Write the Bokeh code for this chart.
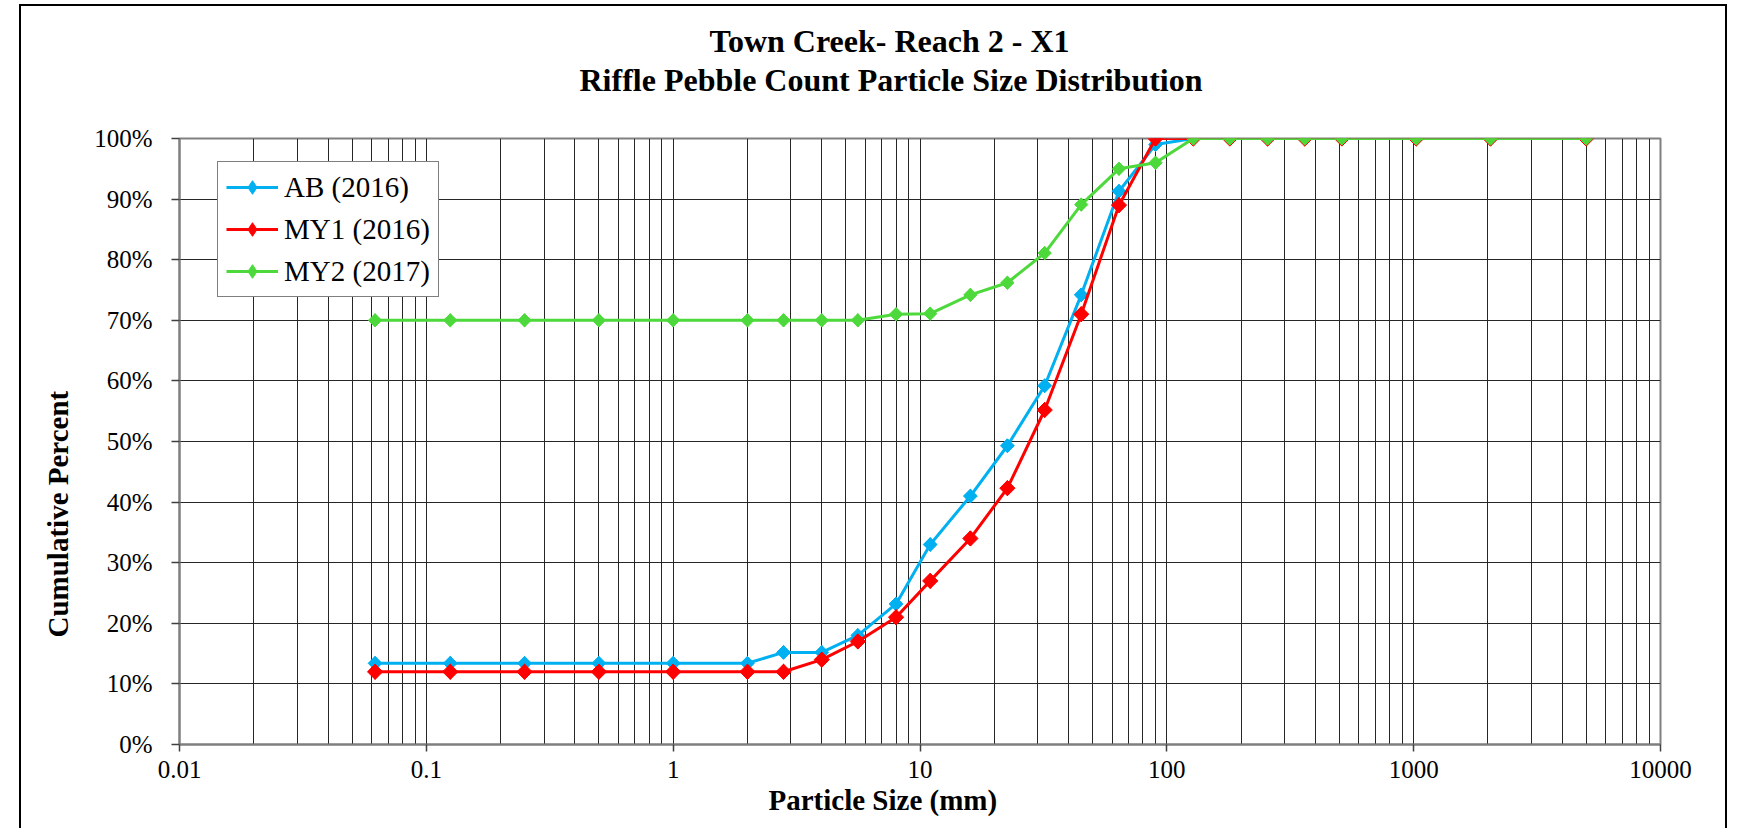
import math
from bokeh.plotting import figure
from bokeh.models import (FixedTicker, PrintfTickFormatter, Range1d, Legend, LegendItem,
                          Title, Spacer)
from bokeh.layouts import row, column
from bokeh.embed import file_html
from bokeh.resources import INLINE

# ---------------- data ----------------
sizes_mm = [0.062, 0.125, 0.25, 0.5, 1, 2, 2.8, 4, 5.6, 8, 11, 16, 22.6, 32, 45, 64,
            90, 128, 180, 256, 362, 512, 1024, 2048, 5000]
ab_2016 = [13.4, 13.4, 13.4, 13.4, 13.4, 13.4, 15.2, 15.2, 18.0, 23.2, 33.0, 41.0, 49.3,
           59.2, 74.2, 91.3, 99.0, 100, 100, 100, 100, 100, 100, 100, 100]
my1_2016 = [12, 12, 12, 12, 12, 12, 12, 14, 17, 21, 27, 34, 42.3, 55.2, 71, 89, 100, 100,
            100, 100, 100, 100, 100, 100, 100]
my2_2017 = [70, 70, 70, 70, 70, 70, 70, 70, 70, 71, 71.1, 74.2, 76.2, 81.1, 89.1, 95, 96,
            100, 100, 100, 100, 100, 100, 100, 100]
series_names = ["AB (2016)", "MY1 (2016)", "MY2 (2017)"]
x_major_ticks = [0.01, 0.1, 1, 10, 100, 1000, 10000]
x_tick_labels = ["0.01", "0.1", "1", "10", "100", "1000", "10000"]
y_ticks = [0, 10, 20, 30, 40, 50, 60, 70, 80, 90, 100]
title_lines = ["Town Creek- Reach 2 - X1", "Riffle Pebble Count Particle Size Distribution"]
x_title = "Particle Size (mm)"
y_title = "Cumulative Percent"

FONT = "Liberation Serif"
colors = ["#00B0F0", "#FF0000", "#4DD93B"]
marker_sizes = [9.8, 10.8, 9.4]

p = figure(width=1708, height=824, x_axis_type="log",
           x_range=Range1d(x_major_ticks[0], x_major_ticks[-1]),
           y_range=Range1d(y_ticks[0], y_ticks[-1]),
           output_backend="svg", toolbar_location=None, title=None,
           min_border_left=155, min_border_right=69, min_border_top=132, min_border_bottom=86)
p.background_fill_color = "white"
p.border_fill_color = "white"
p.outline_line_color = "#808080"
p.outline_line_width = 2
p.styles = {"border-top": "2px solid black", "border-left": "2px solid black",
            "border-right": "2px solid black"}

minor = [m * k for m in x_major_ticks[:-1] for k in range(2, 10)]
p.xaxis.ticker = FixedTicker(ticks=x_major_ticks, minor_ticks=minor)
p.xaxis.major_label_overrides = {t: lab for t, lab in zip(x_major_ticks, x_tick_labels)}
p.yaxis.ticker = FixedTicker(ticks=y_ticks)
p.yaxis.formatter = PrintfTickFormatter(format="%d%%")

for ax in (p.xaxis, p.yaxis):
    ax.axis_line_color = "#7f7f7f"
    ax.axis_line_width = 2
    ax.major_tick_line_color = "#404040"
    ax.major_tick_line_width = 1.5
    ax.major_tick_in = 0
    ax.minor_tick_in = 0
    ax.minor_tick_out = 0
    ax.major_label_text_font = FONT
    ax.major_label_text_font_size = "25px"
    ax.major_label_text_color = "black"
p.xaxis.major_tick_out = 7
p.yaxis.major_tick_out = 8
p.xaxis.major_label_standoff = 9
p.yaxis.major_label_standoff = 19

p.xgrid.grid_line_color = "#262626"
p.xgrid.grid_line_width = 1
p.xgrid.minor_grid_line_color = "#262626"
p.xgrid.minor_grid_line_width = 1
p.ygrid.grid_line_color = "#262626"
p.ygrid.grid_line_width = 1

items = []
for name, vals, col, ms in zip(series_names, [ab_2016, my1_2016, my2_2017], colors,
                               marker_sizes):
    ln = p.line(sizes_mm, vals, line_color=col, line_width=3)
    # diamond used for the legend swatch; on the plot it sits fully under the
    # same-colour rotated square drawn next
    dm = p.scatter(sizes_mm, vals, marker="diamond", size=round(ms * 1.39, 1),
                   fill_color=col, line_color=col)
    p.scatter(sizes_mm, vals, marker="square", angle=math.pi / 4, size=ms,
              fill_color=col, line_color=col)
    items.append(LegendItem(label=name, renderers=[ln, dm]))

legend = Legend(items=items, location=(38, 447), orientation="vertical",
                label_text_font=FONT, label_text_font_size="29px", label_text_color="black",
                glyph_width=52, glyph_height=34, label_standoff=6, padding=8, spacing=8,
                margin=0, border_line_color="black", border_line_width=1.2,
                background_fill_color="white", background_fill_alpha=1.0)
p.add_layout(legend, "center")

def make_title(text, size, offset, standoff):
    return Title(text=text, align="left", offset=offset, standoff=standoff,
                 text_font=FONT, text_font_size=size, text_font_style="bold",
                 text_color="black")

# above: spacer closest to frame, then line 2, then line 1
p.add_layout(Title(text=" ", text_font_size="1px", standoff=38), "above")
p.add_layout(make_title(title_lines[1], "32px", 400, 0), "above")
p.add_layout(make_title(title_lines[0], "32px", 530, 2), "above")
p.add_layout(make_title(x_title, "29px", 589, 2), "below")
p.add_layout(make_title(y_title, "29px", 107, 36), "left")

layout = column(Spacer(height=4), row(Spacer(width=19), p))
with open("out.html", "w") as f:
    f.write(file_html(layout, INLINE))
